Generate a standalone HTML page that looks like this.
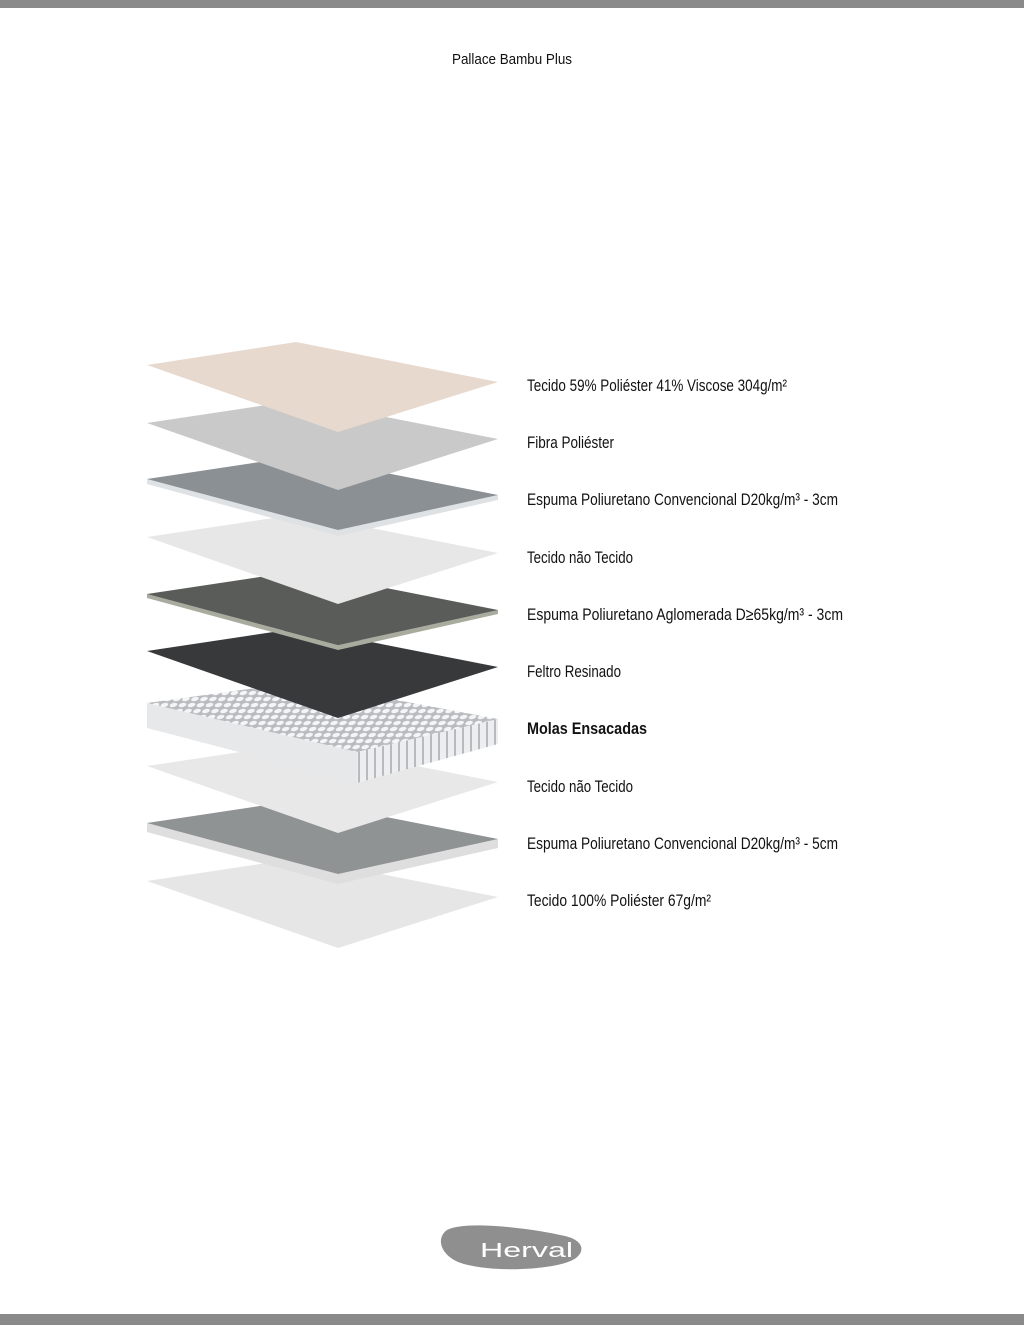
<!DOCTYPE html>
<html><head><meta charset="utf-8"><style>
html,body{margin:0;padding:0;background:#fff;}
svg{display:block;}
text{font-family:"Liberation Sans Narrow","Liberation Sans",sans-serif;font-size:17px;fill:#111;}
</style></head><body>
<svg width="1024" height="1325" viewBox="0 0 1024 1325" xmlns="http://www.w3.org/2000/svg">
<defs>
<pattern id="coils" width="9" height="6" patternUnits="userSpaceOnUse" patternTransform="skewX(-30)">
<rect width="9" height="6" fill="#b9bbbe"/>
<ellipse cx="4.5" cy="3" rx="3.6" ry="2.2" fill="#f4f5f6"/>
</pattern>
<pattern id="stripes" width="8" height="30" patternUnits="userSpaceOnUse">
<rect width="8" height="30" fill="#eceef0"/>
<rect x="6" width="2" height="30" fill="#b8babd"/>
</pattern>
</defs>
<rect x="0" y="0" width="1024" height="8" fill="#8a8a8a"/>
<rect x="0" y="1314" width="1024" height="11" fill="#8a8a8a"/>
<text x="452" y="64" textLength="120" lengthAdjust="spacingAndGlyphs" style="font-size:15px">Pallace Bambu Plus</text>

<!-- 10 -->
<polygon points="147,881 300,858 498,897 338,948" fill="#e6e6e6"/>
<!-- 9 foam 5cm -->
<polygon points="147,823 338,874 498,839 498,848 338,884 147,832" fill="#dedede"/>
<polygon points="147,823 300,800 498,839 338,874" fill="#8f9394"/>
<!-- 8 -->
<polygon points="147,766 300,743 498,782 338,833" fill="#e8e8e8"/>
<!-- 7 springs -->
<polygon points="147,703 357,752 357,783 147,728" fill="#e6e8ea"/>
<polygon points="357,752 498,719 498,744 357,783" fill="url(#stripes)"/>
<polygon points="147,703 300,682 498,719 357,752" fill="url(#coils)"/>
<!-- 6 felt -->
<polygon points="147,651 300,628 498,667 338,718" fill="#38393b"/>
<!-- 5 agglomerated -->
<polygon points="147,594 338,645 498,610 498,614 338,650 147,598" fill="#a9ab9e"/>
<polygon points="147,594 300,571 498,610 338,645" fill="#595c58"/>
<!-- 4 -->
<polygon points="147,537 300,514 498,553 338,604" fill="#e7e7e7"/>
<!-- 3 foam -->
<polygon points="147,479 338,530 498,495 498,500 338,536 147,484" fill="#dfe2e5"/>
<polygon points="147,479 300,456 498,495 338,530" fill="#8b9094"/>
<!-- 2 fibre -->
<polygon points="147,423 300,400 498,439 338,490" fill="#c9c9c9"/>
<!-- 1 top fabric -->
<polygon points="147,365 296,342 498,382 338,432" fill="#e8d9cf"/>

<text x="527" y="391" textLength="260" lengthAdjust="spacingAndGlyphs">Tecido 59% Poliéster 41% Viscose 304g/m²</text>
<text x="527" y="448" textLength="87" lengthAdjust="spacingAndGlyphs">Fibra Poliéster</text>
<text x="527" y="505" textLength="311" lengthAdjust="spacingAndGlyphs">Espuma Poliuretano Convencional D20kg/m³ - 3cm</text>
<text x="527" y="563" textLength="106" lengthAdjust="spacingAndGlyphs">Tecido não Tecido</text>
<text x="527" y="620" textLength="316" lengthAdjust="spacingAndGlyphs">Espuma Poliuretano Aglomerada D≥65kg/m³ - 3cm</text>
<text x="527" y="677" textLength="94" lengthAdjust="spacingAndGlyphs">Feltro Resinado</text>
<text x="527" y="734" textLength="120" lengthAdjust="spacingAndGlyphs" style="font-weight:bold">Molas Ensacadas</text>
<text x="527" y="792" textLength="106" lengthAdjust="spacingAndGlyphs">Tecido não Tecido</text>
<text x="527" y="849" textLength="311" lengthAdjust="spacingAndGlyphs">Espuma Poliuretano Convencional D20kg/m³ - 5cm</text>
<text x="527" y="906" textLength="184" lengthAdjust="spacingAndGlyphs">Tecido 100% Poliéster 67g/m²</text>

<!-- logo -->
<path d="M447,1230 C465,1220 530,1228 565,1236 C582,1240 586,1250 576,1258 C560,1270 490,1274 458,1262 C440,1254 436,1238 447,1230 Z" fill="#8f8f8f"/>
<text x="480" y="1257" textLength="93" lengthAdjust="spacingAndGlyphs" style="font-size:20px;fill:#fff;font-family:'Liberation Sans',sans-serif">Herval</text>
</svg>
</body></html>
